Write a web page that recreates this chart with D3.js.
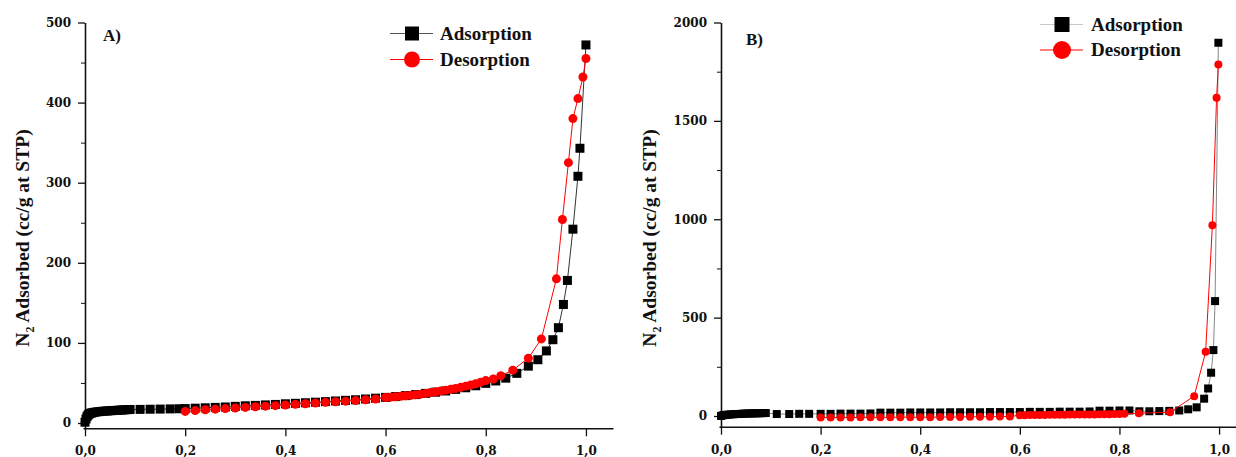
<!DOCTYPE html>
<html><head><meta charset="utf-8">
<script src="https://cdn.jsdelivr.net/npm/d3@7"></script>
<style>body{margin:0;background:#fff;overflow:hidden}</style>
</head><body>
<svg id="chart" width="1236" height="457"></svg>
<script>
// ---------- DATA ----------
const xTickValues = [0, 0.2, 0.4, 0.6, 0.8, 1.0];
const yTicksA = [0, 100, 200, 300, 400, 500];
const yMinorA = [50, 150, 250, 350, 450];
const yTicksB = [0, 500, 1000, 1500, 2000];
const yMinorB = [250, 750, 1250, 1750];
const seriesNames = ["Adsorption", "Desorption"];
const panelLabels = ["A)", "B)"];

// Panel A – adsorption
const adsA_x = [0, 0.002, 0.004, 0.006, 0.008, 0.010, 0.013, 0.016, 0.020, 0.025, 0.030, 0.035, 0.040, 0.045, 0.050, 0.055, 0.060, 0.065, 0.070, 0.075, 0.080, 0.085, 0.090,
  0.110, 0.130, 0.150, 0.170, 0.188,
  0.20, 0.22, 0.24, 0.26, 0.28, 0.30, 0.32, 0.34, 0.36, 0.38, 0.40, 0.42, 0.44, 0.46, 0.48, 0.50, 0.52, 0.54, 0.56, 0.58, 0.60, 0.62, 0.64, 0.66, 0.68, 0.70, 0.72, 0.74, 0.76, 0.78, 0.80, 0.82, 0.84,
  0.862, 0.885, 0.904, 0.921, 0.934, 0.945, 0.955, 0.963, 0.974, 0.984, 0.988, 1.0];
const adsA_y = [1, 5, 8, 10, 11, 12, 12.5, 13, 13.5, 14, 14.3, 14.6, 14.9, 15.1, 15.3, 15.5, 15.7, 15.9, 16.1, 16.3, 16.5, 16.7, 16.9,
  17, 17.2, 17.4, 17.6, 17.8,
  18, 18.5, 19, 19.5, 20, 20.8, 21.5, 22, 22.6, 23.2, 24, 24.6, 25.3, 26, 26.7, 27.5, 28.3, 29, 30, 31, 32, 33, 34.2, 35.5, 37, 38.5, 40, 42, 44, 46.5, 49.5, 52.5, 56,
  62, 71, 79, 90, 104, 119, 148, 178, 242, 308, 343, 472];
// Panel A – desorption
const desA_x = [1.0, 0.994, 0.984, 0.974, 0.965, 0.953, 0.941, 0.911, 0.885, 0.854, 0.83, 0.815,
  0.80, 0.79, 0.78, 0.77, 0.76, 0.75, 0.74, 0.73, 0.72, 0.71, 0.70, 0.69, 0.68, 0.67, 0.66, 0.65, 0.64, 0.63, 0.62, 0.61, 0.60,
  0.58, 0.56, 0.54, 0.52, 0.50, 0.48, 0.46, 0.44, 0.42, 0.40, 0.38, 0.36, 0.34, 0.32, 0.30, 0.28, 0.26, 0.24, 0.22, 0.20];
const desA_y = [455, 432, 405, 380, 325, 254, 180, 105, 81, 66, 59, 55,
  53, 51, 49, 47.5, 46, 44.5, 43, 42, 41, 40, 39, 38, 37, 36, 35.2, 34.5, 34, 33.3, 32.8, 32.3, 31.8,
  30, 29, 28, 27.3, 26.5, 25.8, 25, 24, 23.3, 22.5, 21.7, 21, 20.3, 19.5, 18.8, 18, 17.3, 16.5, 15.5, 14.5];

// Panel B – adsorption
const adsB_x = [0, 0.003, 0.006, 0.01, 0.015, 0.02, 0.025, 0.03, 0.035, 0.04, 0.045, 0.05, 0.055, 0.06, 0.065, 0.07, 0.075, 0.08, 0.085, 0.09,
  0.112, 0.137, 0.157, 0.177,
  0.20, 0.22, 0.24, 0.26, 0.28, 0.30, 0.32, 0.34, 0.36, 0.38, 0.40, 0.42, 0.44, 0.46, 0.48, 0.50, 0.52, 0.54, 0.56, 0.58, 0.60, 0.62, 0.64, 0.66, 0.68, 0.70, 0.72, 0.74, 0.76, 0.78, 0.80, 0.82, 0.84, 0.86, 0.88, 0.90,
  0.92, 0.938, 0.955, 0.97, 0.978, 0.984, 0.9886, 0.992, 0.9986];
const adsB_y = [0, 3, 5, 6, 7, 8, 9, 10, 10, 11, 12, 12, 13, 13, 13, 14, 14, 14, 15, 15,
  10, 10, 11, 11,
  11, 11, 12, 12, 12, 13, 17, 17, 17, 18, 18, 18, 18, 19, 19, 19, 19, 20, 20, 20, 20, 21, 21, 21, 22, 22, 22, 23, 27, 27, 28, 28, 24, 24, 25, 26,
  28, 34, 44, 88, 140, 220, 335, 584, 1897];
// Panel B – desorption
const desB_x = [0.9986, 0.995, 0.9866, 0.973, 0.95, 0.9015, 0.839,
  0.81, 0.80, 0.79, 0.78, 0.77, 0.76, 0.75, 0.74, 0.73, 0.72, 0.71, 0.70, 0.69, 0.68, 0.67, 0.66, 0.65, 0.64, 0.63, 0.62, 0.61, 0.60,
  0.58, 0.56, 0.54, 0.52, 0.50, 0.48, 0.46, 0.44, 0.42, 0.40, 0.38, 0.36, 0.34, 0.32, 0.30, 0.28, 0.26, 0.24, 0.22, 0.20];
const desB_y = [1787, 1618, 970, 326, 101, 19, 14,
  11, 10, 10, 9, 9, 9, 8, 8, 8, 7, 7, 7, 6, 6, 6, 6, 5, 5, 5, 5, 4, 4,
  -3, -3, -4, -4, -4, -5, -5, -5, -6, -6, -6, -6, -7, -7, -7, -7, -8, -8, -8, -8];

// ---------- DRAW ----------
const svg = d3.select("#chart");
const zip = (xs, ys) => xs.map((v, i) => [v, ys[i]]);
const tickFont = "'DejaVu Serif', serif";
const textFont = "'Liberation Serif', 'Times New Roman', serif";

const panels = [
  { label: panelLabels[0], xDom: [-0.004, 1.054], xRange: [83, 613], yDom: [-6.6, 500], yRange: [428.3, 22.5],
    yTicks: yTicksA, yMinor: yMinorA, ads: zip(adsA_x, adsA_y), des: zip(desA_x, desA_y),
    adsLine: "#333", legLine: "#555", sq: 9, r: 4.5, labelPos: [103, 41], titlePos: [22, 238],
    legend: { x0: 390, x1: 433, xm: 412, y1: 33.5, y2: 59.5, tx: 440, sq: 14, r: 8 }, xPad: 10 },
  { label: panelLabels[1], xDom: [-0.004, 1.04], xRange: [719, 1239], yDom: [-54.4, 2000], yRange: [426.7, 22.5],
    yTicks: yTicksB, yMinor: yMinorB, ads: zip(adsB_x, adsB_y), des: zip(desB_x, desB_y),
    adsLine: "#888", legLine: "#c8c8c8", sq: 8, r: 4, labelPos: [746, 45], titlePos: [649, 238],
    legend: { x0: 1040, x1: 1083, xm: 1062, y1: 24.5, y2: 50, tx: 1091, sq: 15, r: 9 }, xPad: 11 }
];

panels.forEach(p => {
  const x = d3.scaleLinear().domain(p.xDom).range(p.xRange);
  const y = d3.scaleLinear().domain(p.yDom).range(p.yRange);
  const g = svg.append("g");

  // x axis
  const xa = d3.axisBottom(x).tickValues(xTickValues).tickSize(8).tickSizeOuter(0).tickPadding(p.xPad)
    .tickFormat(d => d3.format(".1f")(d).replace(".", ","));
  const gx = g.append("g").attr("transform", `translate(0,${p.yRange[0]})`).call(xa);
  // y axis minor
  g.append("g").attr("transform", `translate(${x(0)},0)`)
    .call(d3.axisLeft(y).tickValues(p.yMinor).tickSize(4).tickFormat(""))
    .call(s => s.select(".domain").remove());
  // y axis major
  const gy = g.append("g").attr("transform", `translate(${x(0)},0)`)
    .call(d3.axisLeft(y).tickValues(p.yTicks).tickSize(7).tickSizeOuter(0).tickPadding(7).tickFormat(d3.format("d")));
  [gx, gy].forEach(a => {
    a.selectAll(".domain").attr("stroke", "#111").attr("stroke-width", 1.6);
    a.selectAll(".tick line").attr("stroke", "#111").attr("stroke-width", 1.3);
    a.selectAll("text").attr("font-family", tickFont).attr("font-weight", "bold")
      .attr("font-size", 12).attr("fill", "#111");
  });
  g.selectAll(".tick line").attr("stroke", "#111");

  // lines
  const line = d3.line().x(d => x(d[0])).y(d => y(d[1]));
  g.append("path").datum(p.ads).attr("d", line).attr("fill", "none").attr("stroke", p.adsLine).attr("stroke-width", 1);
  g.selectAll("rect.ads").data(p.ads).join("rect").attr("class", "ads")
    .attr("x", d => x(d[0]) - p.sq / 2).attr("y", d => y(d[1]) - p.sq / 2)
    .attr("width", p.sq).attr("height", p.sq).attr("fill", "#000");
  g.append("path").datum(p.des).attr("d", line).attr("fill", "none").attr("stroke", "#ff0000").attr("stroke-width", 1);
  g.selectAll("circle.des").data(p.des).join("circle").attr("class", "des")
    .attr("cx", d => x(d[0])).attr("cy", d => y(d[1])).attr("r", p.r).attr("fill", "#ff0000");

  // panel label
  g.append("text").attr("x", p.labelPos[0]).attr("y", p.labelPos[1]).text(p.label)
    .attr("font-family", textFont).attr("font-weight", "bold").attr("font-size", 17).attr("fill", "#111");

  // axis title
  const t = g.append("text").attr("transform", `translate(${p.titlePos[0]},${p.titlePos[1]}) rotate(-90)`)
    .attr("text-anchor", "middle").attr("dy", "0.35em")
    .attr("font-family", textFont).attr("font-weight", "bold").attr("font-size", 19.5).attr("fill", "#111");
  t.append("tspan").text("N");
  t.append("tspan").text("2").attr("font-size", 12).attr("dy", 5);
  t.append("tspan").text(" Adsorbed (cc/g at STP)").attr("dy", -5);

  // legend
  const L = p.legend;
  g.append("line").attr("x1", L.x0).attr("x2", L.x1).attr("y1", L.y1).attr("y2", L.y1).attr("stroke", p.legLine).attr("stroke-width", 1.2);
  g.append("rect").attr("x", L.xm - L.sq / 2).attr("y", L.y1 - L.sq / 2).attr("width", L.sq).attr("height", L.sq).attr("fill", "#000");
  g.append("line").attr("x1", L.x0).attr("x2", L.x1).attr("y1", L.y2).attr("y2", L.y2).attr("stroke", "#ff0000").attr("stroke-width", 1.2);
  g.append("circle").attr("cx", L.xm).attr("cy", L.y2).attr("r", L.r).attr("fill", "#ff0000");
  [[seriesNames[0], L.y1], [seriesNames[1], L.y2]].forEach(([name, yy]) => {
    g.append("text").attr("x", L.tx).attr("y", yy).attr("dy", "0.32em").text(name)
      .attr("font-family", textFont).attr("font-weight", "bold").attr("font-size", 19).attr("fill", "#111");
  });
});
</script>
</body></html>
